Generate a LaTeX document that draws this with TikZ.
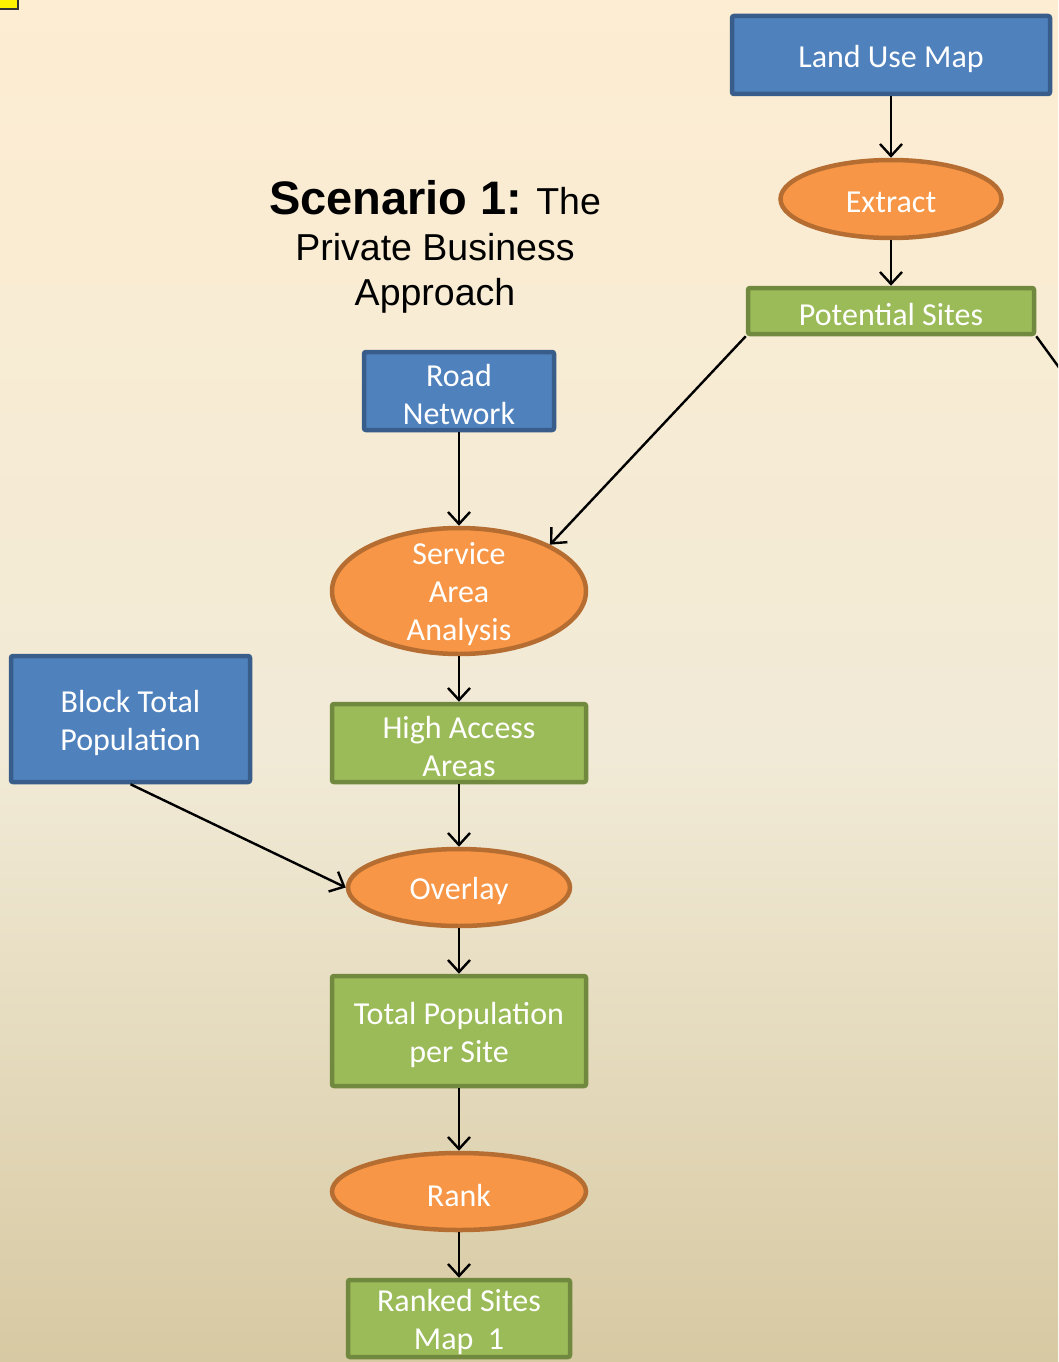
\documentclass[tikz,border=0pt]{standalone}
\usepackage{fontspec}
\setmainfont{Carlito}
\newfontfamily\titlefont{Liberation Sans}
\usetikzlibrary{shapes.geometric,arrows.meta}

\definecolor{bgTop}{RGB}{253,237,210}
\definecolor{bgMid}{RGB}{241,234,214}
\definecolor{bgBot}{RGB}{215,201,162}
\definecolor{blueFill}{RGB}{79,129,189}
\definecolor{blueLine}{RGB}{56,93,138}
\definecolor{greenFill}{RGB}{155,187,89}
\definecolor{greenLine}{RGB}{113,137,63}
\definecolor{orangeFill}{RGB}{247,150,70}
\definecolor{orangeLine}{RGB}{182,109,49}

\tikzset{
  caption/.style={font=\fontsize{32}{38}\selectfont, text=white, align=center,
                  inner sep=0pt, yshift=-3.5pt},
  databox/.style={rectangle, rounded corners=2pt, line width=4.5pt, inner sep=0pt},
  inputbox/.style={databox, draw=blueLine, fill=blueFill},
  outputbox/.style={databox, draw=greenLine, fill=greenFill},
  tool/.style={ellipse, draw=orangeLine, fill=orangeFill, line width=4.5pt, inner sep=0pt},
  flow/.style={line width=2.4pt, -{Straight Barb[length=12pt,width=22pt,line width=2.4pt]}},
}

\begin{document}
\begin{tikzpicture}[x=1pt,y=-1pt]
  \useasboundingbox (0,0) rectangle (1058,1362);
  \clip (0,0) rectangle (1058,1362);

  % parchment background
  \shade[top color=bgTop, bottom color=bgMid] (0,0) rectangle (1058,760);
  \shade[top color=bgMid, bottom color=bgBot] (0,759) rectangle (1058,1362);

  % small marker in the corner
  \draw[line width=2pt, draw=black!80, fill=yellow] (-6,-6) rectangle (18,9);

  % heading
  \node[align=center, inner sep=0pt,
        font=\titlefont\fontsize{37.5}{45.5}\selectfont] (title) at (435,247)
    {{\bfseries\fontsize{47}{45.5}\selectfont Scenario 1:} The\\Private Business\\Approach};

  % inputs
  \node[inputbox, minimum width=318, minimum height=78,
        label={[caption]center:Land Use Map}] (lum) at (891,55) {};
  \node[inputbox, minimum width=190, minimum height=78,
        label={[caption]center:Road\\Network}] (rn) at (459,391) {};
  \node[inputbox, minimum width=239, minimum height=126,
        label={[caption]center:Block Total\\Population}] (btp) at (130.5,719) {};

  % tools
  \node[tool, minimum width=221, minimum height=78,
        label={[caption]center:Extract}] (ext) at (891,199) {};
  \node[tool, minimum width=254, minimum height=126,
        label={[caption]center:Service\\Area\\Analysis}] (saa) at (459,591) {};
  \node[tool, minimum width=222, minimum height=77,
        label={[caption]center:Overlay}] (ov) at (459,887.5) {};
  \node[tool, minimum width=254, minimum height=77,
        label={[caption]center:Rank}] (rank) at (459,1191.5) {};

  % intermediate and final data
  \node[outputbox, minimum width=286, minimum height=46,
        label={[caption]center:Potential Sites}] (ps) at (891,311) {};
  \node[outputbox, minimum width=254, minimum height=78,
        label={[caption]center:High Access\\Areas}] (haa) at (459,743) {};
  \node[outputbox, minimum width=254, minimum height=110,
        label={[caption]center:Total Population\\per Site}] (tps) at (459,1031) {};
  \node[outputbox, minimum width=222, minimum height=77,
        label={[caption]center:Ranked Sites\\Map\ \ 1}] (rsm) at (459,1318.5) {};

  % connectors
  \draw[flow] (lum) -- (ext);
  \draw[flow] (ext) -- (ps);
  \draw[flow] (ps.south west) -- (saa.27);
  \coordinate (offpage) at (1090,410);
  \draw[line width=2.4pt] (ps.south east) -- (offpage);
  \draw[flow] (rn) -- (saa);
  \draw[flow] (saa) -- (haa);
  \draw[flow] (haa) -- (ov);
  \draw[flow] (btp.south) -- (ov.west);
  \draw[flow] (ov) -- (tps);
  \draw[flow] (tps) -- (rank);
  \draw[flow] (rank) -- (rsm);
\end{tikzpicture}
\end{document}
